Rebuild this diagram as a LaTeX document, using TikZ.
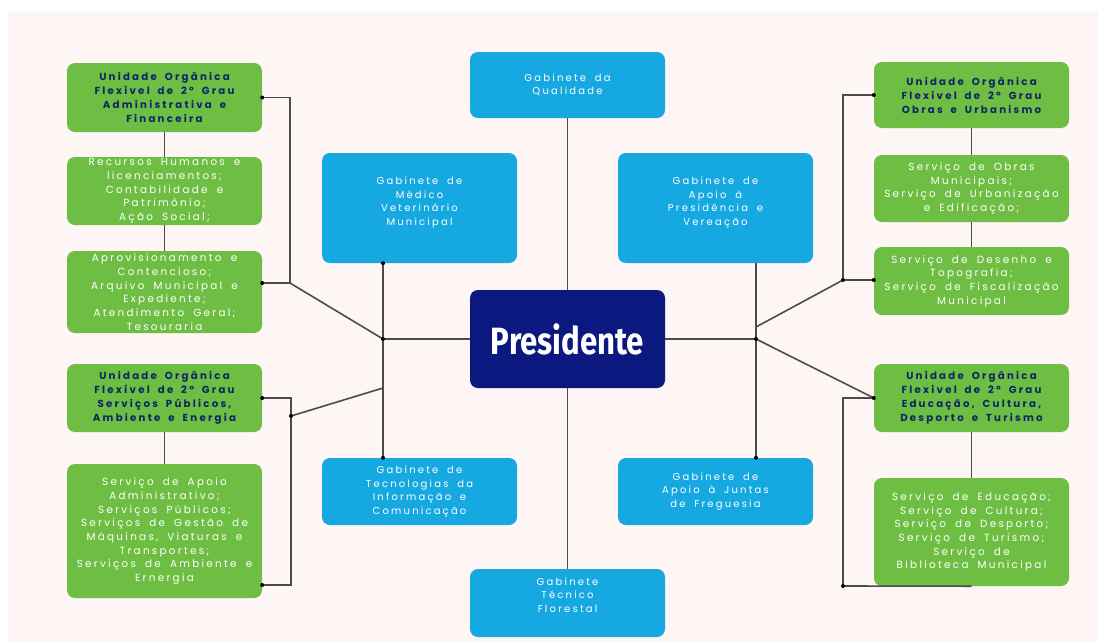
\documentclass[tikz,border=0pt]{standalone}
\usepackage{fontspec}
\setmainfont{Poppins}[LetterSpace=22, WordSpace=1.8]
\newfontfamily\presfont{Fira Sans}
\usetikzlibrary{positioning,calc}
\definecolor{paper}{RGB}{253,246,244}
\definecolor{leaf}{RGB}{110,190,68}
\definecolor{sky}{RGB}{22,168,224}
\definecolor{navy}{RGB}{10,24,128}
\definecolor{ink}{RGB}{14,38,100}
\definecolor{wire}{RGB}{75,75,75}
\tikzset{
unit/.style = {fill=leaf, rounded corners=8pt, minimum width=195pt, inner sep=0pt, align=center, text=ink, font=\bfseries\fontsize{10.2}{14}\selectfont},
serv/.style = {unit, text=white, font=\fontsize{10.4}{13.7}\selectfont},
cab/.style = {serv, fill=sky, font=\fontsize{10}{13.6}\selectfont},
pres/.style = {cab, fill=navy, font=\presfont\bfseries\fontsize{38}{40}\selectfont},
tmp/.style = {coordinate},
link/.style = {draw=wire, line width=1.6pt}
}
\begin{document}
\begin{tikzpicture}[x=1pt, y=-1pt]
\useasboundingbox (0,0) rectangle (1098,641);
\fill[white] (0,0) rectangle (1098,641);
\fill[paper] (8,12) rectangle (1098,641);
\node[pres, minimum height=98pt] (pres) at (567.5,339) {\scalebox{0.82}[1]{Presidente}};
\node[cab, minimum height=66pt] (qual) at (567.5,85) {Gabinete da\\Qualidade};
\node[cab, minimum height=110pt, text depth=14pt] (vet) at (419.5,208) {Gabinete de\\Médico\\Veterinário\\Municipal};
\node[cab, minimum height=110pt, text depth=14pt] (apoio) at (715.5,208) {Gabinete de\\Apoio à\\Presidência e\\Vereação};
\node[cab, minimum height=67pt] (tic) at (419.5,491.5) {Gabinete de\\Tecnologias da\\Informação e\\Comunicação};
\node[cab, minimum height=67pt] (juntas) at (715.5,491.5) {Gabinete de\\Apoio à Juntas\\de Freguesia};
\node[cab, minimum height=68pt, text depth=16pt] (flor) at (567.5,603) {Gabinete\\Técnico\\Florestal};
\node[unit, minimum height=69pt] (adm) at (164.5,97.5) {Unidade Orgânica\\Flexivel de 2° Grau\\Administrativa e\\Financeira};
\node[serv, minimum height=68pt] (adm1) at (164.5,191) {Recursos Humanos e\\licenciamentos;\\Contabilidade e\\Patrimônio;\\Ação Social;};
\node[serv, minimum height=82pt] (adm2) at (164.5,292) {Aprovisionamento e\\Contencioso;\\Arquivo Municipal e\\Expediente;\\Atendimento Geral;\\Tesouraria};
\node[unit, minimum height=68pt] (spa) at (164.5,398) {Unidade Orgânica\\Flexível de 2° Grau\\Serviços Públicos,\\Ambiente e Energia};
\node[serv, minimum height=134pt] (spa1) at (164.5,531) {Serviço de Apoio\\Administrativo;\\Serviços Públicos;\\Serviços de Gestão de\\Máquinas, Viaturas e\\Transportes;\\Serviços de Ambiente e\\Ernergia};
\node[unit, minimum height=66pt] (obras) at (971.5,95) {Unidade Orgânica\\Flexivel de 2° Grau\\Obras e Urbanismo};
\node[serv, minimum height=67pt] (obras1) at (971.5,188.5) {Serviço de Obras\\Municipais;\\Serviço de Urbanização\\e Edificação;};
\node[serv, minimum height=68pt] (obras2) at (971.5,281) {Serviço de Desenho e\\Topografia;\\Serviço de Fiscalização\\Municipal};
\node[unit, minimum height=68pt] (edu) at (971.5,398) {Unidade Orgânica\\Flexivel de 2° Grau\\Educação, Cultura,\\Desporto e Turismo};
\node[serv, minimum height=108pt] (edu1) at (971.5,532) {Serviço de Educação;\\Serviço de Cultura;\\Serviço de Desporto;\\Serviço de Turismo;\\Serviço de\\Biblioteca Municipal};
\node[tmp] (jl) at (383,339) {};
\node[tmp] (jl2) at (383,388) {};
\node[tmp] (bl) at (290,283) {};
\node[tmp] (bl2) at (291,585) {};
\node[tmp] (dl) at (291,416) {};
\node[tmp] (jr) at (756,339) {};
\node[tmp] (jr2) at (756,327) {};
\node[tmp] (br) at (843,280) {};
\node[tmp] (br2) at (843,586) {};
\draw[link] (qual) -- (pres);
\draw[link] (pres) -- (flor);
\draw[link] (jl |- vet.south) -- (jl |- tic.north);
\draw[link] (jr |- apoio.south) -- (jr |- juntas.north);
\draw[link] (jl) -- (pres.west);
\draw[link] (pres.east) -- (jr);
\draw[link] (adm) -- (adm1);
\draw[link] (adm1) -- (adm2);
\draw[link] (spa) -- (spa1);
\draw[link] (obras) -- (obras1);
\draw[link] (obras1) -- (obras2);
\draw[link] (edu) -- (edu1);
\draw[link] (adm.east) -| (bl) -- (bl -| adm2.east);
\draw[link] (bl) -- (jl);
\draw[link] (spa.east) -| (bl2) -- (bl2 -| spa1.east);
\draw[link] (dl) -- (jl2);
\draw[link] (obras.west) -| (br) -- (br -| obras2.west);
\draw[link] (jr2) -- (br);
\draw[link] (jr) -- (edu.west);
\draw[link] (edu.west) -| (br2) -- (edu1.south);
\foreach \p in {adm.east, bl -| adm2.east, spa.east, bl2 -| spa1.east, dl, jl, jl |- vet.south, jl |- tic.north, jr, jr |- juntas.north, obras.west, br, br -| obras2.west, edu.west, br2}
  \fill[black] (\p) circle (2pt);
\end{tikzpicture}
\end{document}
